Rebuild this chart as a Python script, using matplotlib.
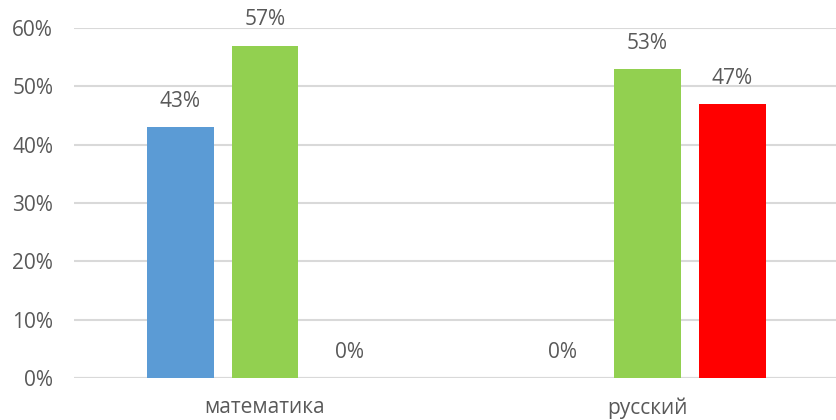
import numpy as np
import matplotlib.pyplot as plt

categories = ['математика', 'русский']
blue_vals = [43, 0]
green_vals = [57, 53]
red_vals = [0, 47]
series = [blue_vals, green_vals, red_vals]
colors = ['#5B9BD5', '#92D050', '#FF0000']

plt.rcParams['font.family'] = ['Open Sans', 'DejaVu Sans']
text_color = '#595959'

fig = plt.figure(figsize=(8.36, 4.2), dpi=100)
ax = fig.add_axes([74/836, 1 - 378/420, (836-74)/836, 350/420])

x = np.arange(len(categories))
width = 0.175
step = 0.221

for i, vals in enumerate(series):
    pos = x + (i - 1) * step
    bars = ax.bar(pos, vals, width, color=colors[i], zorder=3)
    for p, v in zip(pos, vals):
        ax.annotate(f'{v}%', (p, v), xytext=(0, 11), textcoords='offset points',
                    ha='center', va='bottom', fontsize=15, color=text_color)

ax.set_ylim(0, 60)
ax.set_xlim(-0.4993, 1.4928)
ax.set_yticks(range(0, 61, 10))
ax.set_yticklabels([f'{t}%' for t in range(0, 61, 10)])
ax.set_xticks(x)
ax.set_xticklabels(categories)
ax.tick_params(axis='both', length=0, labelsize=15, colors=text_color)
ax.tick_params(axis='y', pad=15)
ax.tick_params(axis='x', pad=14)
ax.grid(axis='y', color='#d9d9d9', linewidth=1.5, zorder=0)
for s in ax.spines.values():
    s.set_visible(False)
ax.axhline(0, color='#d9d9d9', linewidth=1.5, zorder=1)

fig.savefig('out.png', dpi=100)
